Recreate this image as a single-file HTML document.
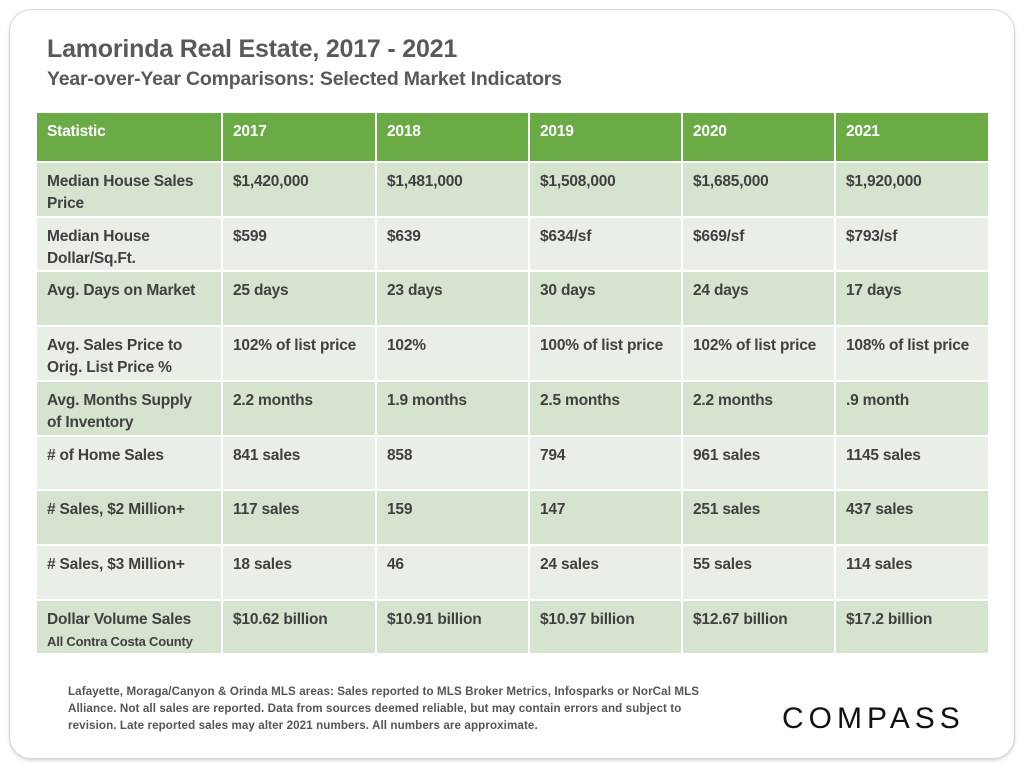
<!DOCTYPE html>
<html><head><meta charset="utf-8"><style>
*{margin:0;padding:0;box-sizing:border-box}
body{width:1024px;height:768px;background:#fff;font-family:"Liberation Sans",sans-serif;position:relative;overflow:hidden;color:#404040}
.card{position:absolute;left:9px;top:9px;width:1006px;height:750px;border:1.5px solid #d4d4d4;border-radius:22px;box-shadow:0 2px 3px #ddd}
.t1{position:absolute;left:47px;top:35px;font-size:25px;font-weight:bold;color:#595959;letter-spacing:-0.2px}
.t2{position:absolute;left:47px;top:68px;font-size:19.5px;font-weight:bold;color:#595959;letter-spacing:-0.2px}
.cell{position:absolute;padding:8px 0 0 10px;font-size:15.5px;font-weight:bold;letter-spacing:-0.2px;line-height:22px;border-right:2px solid #fff;border-bottom:2px solid #fff}
.c0{padding-right:18px}
.hd{background:#6aab45;color:#fff}
.dk{background:#d6e3cf}
.lt{background:#e9efe6}
.small{font-size:13px}
.note{position:absolute;left:68px;top:683px;width:700px;font-size:11.6px;font-weight:bold;color:#555;line-height:17px;white-space:nowrap;letter-spacing:0.1px}
.logo{position:absolute;left:782px;top:702px;font-size:30px;letter-spacing:5px;color:#111}
</style></head><body>
<div class="card"></div>
<div class="t1">Lamorinda Real Estate, 2017 - 2021</div>
<div class="t2">Year-over-Year Comparisons: Selected Market Indicators</div>
<div id="tbl"></div>
<div class="note">Lafayette, Moraga/Canyon &amp; Orinda MLS areas: Sales reported to MLS Broker Metrics, Infosparks or NorCal MLS<br>Alliance. Not all sales are reported. Data from sources deemed reliable, but may contain errors and subject to<br>revision. Late reported sales may alter 2021 numbers. All numbers are approximate.</div>
<div class="logo">COMPASS</div>
<script>
const headers=["Statistic","2017","2018","2019","2020","2021"];
const rows=[
["Median House Sales Price","$1,420,000","$1,481,000","$1,508,000","$1,685,000","$1,920,000"],
["Median House<br>Dollar/Sq.Ft.","$599","$639","$634/sf","$669/sf","$793/sf"],
["Avg. Days on Market","25 days","23 days","30 days","24 days","17 days"],
["Avg. Sales Price to<br>Orig. List Price %","102% of list price","102%","100% of list price","102% of list price","108% of list price"],
["Avg. Months Supply<br>of Inventory","2.2 months","1.9 months","2.5 months","2.2 months",".9 month"],
["# of Home Sales","841 sales","858","794","961 sales","1145 sales"],
["# Sales, $2 Million+","117 sales","159","147","251 sales","437 sales"],
["# Sales, $3 Million+","18 sales","46","24 sales","55 sales","114 sales"],
["Dollar Volume Sales<br><span class='small'>All Contra Costa County</span>","$10.62 billion","$10.91 billion","$10.97 billion","$12.67 billion","$17.2 billion"]
];
const colX=[37,223,377,530,683,836,990];
const tbl=document.getElementById('tbl');
function mk(x,y,w,h,cls,html,name){
 const d=document.createElement('div');
 d.className='cell '+cls;
 d.style.left=x+'px';d.style.top=y+'px';d.style.width=w+'px';d.style.height=h+'px';
 d.innerHTML=html;
 
 
 tbl.appendChild(d);
}
headers.forEach((h,i)=>mk(colX[i],113,colX[i+1]-colX[i],50,'hd',h,'header-'+h.toLowerCase()));
const top0=163,rh=54.7;
rows.forEach((r,ri)=>{
 r.forEach((v,ci)=>{
  const y=Math.round(top0+ri*rh), y2=Math.round(top0+(ri+1)*rh);
  const w=colX[ci+1]-colX[ci];
  mk(colX[ci],y,w,y2-y,(ri%2?'lt':'dk')+(ci===0?' c0':''),v,'cell-r'+(ri+1)+'-c'+ci);
 });
});
</script>
</body></html>
